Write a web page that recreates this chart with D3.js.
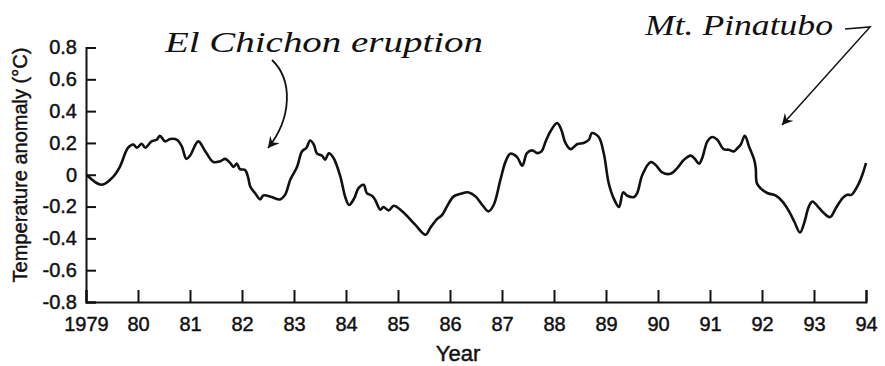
<!DOCTYPE html>
<html>
<head>
<meta charset="utf-8">
<script src="https://cdn.jsdelivr.net/npm/d3@7"></script>
<style>
  body { margin: 0; background: #fff; }
  svg text { font-family: "Liberation Sans", Arial, sans-serif; fill: #111; }
  .bold-ish { stroke: #111; stroke-width: 0.45px; }
  .hand { font-family: "Liberation Serif", serif; font-style: italic; }
</style>
</head>
<body>
<svg id="chart" width="885" height="366"></svg>
<script>
// decimal year and temperature anomaly (°C)
var years = [
  1979.01, 1979.30, 1979.53, 1979.65, 1979.81, 1979.91, 1979.98, 1980.07, 1980.14, 1980.26,
  1980.36, 1980.42, 1980.52, 1980.62, 1980.75, 1980.84, 1980.93, 1981.00, 1981.16, 1981.29,
  1981.45, 1981.58, 1981.68, 1981.77, 1981.84, 1981.90, 1981.96, 1982.06, 1982.12, 1982.16,
  1982.25, 1982.35, 1982.41, 1982.57, 1982.73, 1982.83, 1982.93, 1983.06, 1983.15, 1983.24,
  1983.31, 1983.38, 1983.44, 1983.54, 1983.60, 1983.67, 1983.76, 1983.89, 1983.99, 1984.06,
  1984.16, 1984.24, 1984.34, 1984.40, 1984.50, 1984.56, 1984.66, 1984.72, 1984.82, 1984.92,
  1985.08, 1985.17, 1985.33, 1985.53, 1985.62, 1985.75, 1985.85, 1985.94, 1986.07, 1986.20,
  1986.36, 1986.49, 1986.62, 1986.74, 1986.84, 1986.97, 1987.07, 1987.16, 1987.29, 1987.39,
  1987.48, 1987.58, 1987.68, 1987.76, 1987.84, 1987.93, 1988.06, 1988.14, 1988.22, 1988.32,
  1988.45, 1988.57, 1988.67, 1988.73, 1988.86, 1988.96, 1989.05, 1989.15, 1989.25, 1989.33,
  1989.41, 1989.54, 1989.60, 1989.70, 1989.86, 1989.95, 1990.08, 1990.24, 1990.37, 1990.50,
  1990.63, 1990.71, 1990.79, 1990.85, 1990.95, 1991.04, 1991.14, 1991.26, 1991.36, 1991.46,
  1991.53, 1991.59, 1991.67, 1991.75, 1991.85, 1991.88, 1991.90, 1991.97, 1992.10, 1992.26,
  1992.39, 1992.52, 1992.62, 1992.73, 1992.81, 1992.90, 1992.97, 1993.10, 1993.19, 1993.31,
  1993.42, 1993.55, 1993.64, 1993.72, 1993.84, 1993.93, 1994.00
];
var anomaly = [
  0.000, -0.063, -0.010, 0.050, 0.170, 0.190, 0.170, 0.195, 0.170, 0.210,
  0.220, 0.245, 0.210, 0.225, 0.220, 0.180, 0.100, 0.120, 0.210, 0.150,
  0.080, 0.085, 0.100, 0.075, 0.050, 0.070, 0.035, 0.030, -0.020, -0.075,
  -0.115, -0.155, -0.130, -0.140, -0.155, -0.125, -0.030, 0.050, 0.145, 0.170,
  0.215, 0.190, 0.135, 0.120, 0.095, 0.135, 0.105, -0.010, -0.145, -0.190,
  -0.147, -0.084, -0.063, -0.115, -0.132, -0.157, -0.220, -0.203, -0.224, -0.195,
  -0.230, -0.258, -0.314, -0.377, -0.335, -0.279, -0.252, -0.200, -0.136, -0.120,
  -0.111, -0.136, -0.190, -0.230, -0.190, -0.031, 0.084, 0.132, 0.111, 0.057,
  0.136, 0.153, 0.136, 0.147, 0.210, 0.272, 0.325, 0.283, 0.200, 0.161,
  0.193, 0.200, 0.220, 0.262, 0.237, 0.130, -0.050, -0.150, -0.203, -0.111,
  -0.132, -0.140, -0.115, 0.000, 0.080, 0.063, 0.015, 0.006, 0.042, 0.094,
  0.120, 0.099, 0.069, 0.105, 0.210, 0.237, 0.220, 0.161, 0.157, 0.147,
  0.168, 0.189, 0.245, 0.178, 0.094, 0.042, -0.052, -0.084, -0.115, -0.130,
  -0.168, -0.230, -0.294, -0.363, -0.304, -0.200, -0.168, -0.210, -0.241, -0.266,
  -0.210, -0.147, -0.126, -0.126, -0.069, 0.000, 0.074
];
var yearTicks = d3.range(1979, 1995);
var anomalyTicks = [0.8, 0.6, 0.4, 0.2, 0, -0.2, -0.4, -0.6, -0.8];
var notes = [
  { text: 'El Chichon eruption', x: 165, y: 52, len: 318 },
  { text: 'Mt. Pinatubo', x: 645, y: 35, len: 188 }
];

var svg = d3.select('#chart');
var x = d3.scaleLinear().domain([1979, 1994]).range([86, 866]);
var y = d3.scaleLinear().domain([-0.8, 0.8]).range([302, 47.5]);

// plain hyphen for negatives, like the printed figure
var fmtY = function(d){ return d === 0 ? '0' : (d < 0 ? '-' : '') + Math.abs(d).toFixed(1); };
var fmtX = function(d){ return d === 1979 ? '1979' : String(d).slice(2); };

var yAx = svg.append('g')
    .attr('transform', 'translate(86,0)')
    .call(d3.axisLeft(y).tickValues(anomalyTicks).tickFormat(fmtY)
        .tickSizeInner(-10).tickSizeOuter(-10).tickPadding(9));

var xAx = svg.append('g')
    .attr('transform', 'translate(0,302)')
    .call(d3.axisBottom(x).tickValues(yearTicks).tickFormat(fmtX)
        .tickSizeInner(-12).tickSizeOuter(-12).tickPadding(15));

[yAx, xAx].forEach(function(g){
    g.selectAll('path, line').attr('stroke', '#111').attr('stroke-width', 2);
    g.selectAll('text').attr('class', 'bold-ish').style('font-size', '20px').attr('fill', '#111');
});

svg.append('text')
    .attr('class', 'bold-ish')
    .attr('x', 458).attr('y', 361)
    .attr('text-anchor', 'middle')
    .style('font-size', '22px')
    .text('Year');

svg.append('text')
    .attr('class', 'bold-ish')
    .attr('transform', 'translate(27,165) rotate(-90)')
    .attr('text-anchor', 'middle')
    .style('font-size', '20px')
    .text('Temperature anomaly (°C)');

var line = d3.line()
    .x(function(d, i){ return x(years[i]); })
    .y(function(d){ return y(d); })
    .curve(d3.curveCatmullRom.alpha(0.5));

svg.append('path')
    .datum(anomaly)
    .attr('d', line)
    .attr('fill', 'none')
    .attr('stroke', '#111')
    .attr('stroke-width', 2.6)
    .attr('stroke-linejoin', 'round');

// handwritten annotations
svg.append('defs').append('marker')
    .attr('id', 'head')
    .attr('viewBox', '0 0 12 12')
    .attr('refX', 11).attr('refY', 6)
    .attr('markerWidth', 12).attr('markerHeight', 12)
    .attr('markerUnits', 'userSpaceOnUse')
    .attr('orient', 'auto')
    .append('path')
    .attr('d', 'M0,0 L11,6 L0,12 L4,6 Z')
    .attr('fill', '#111');

svg.selectAll('text.hand')
    .data(notes)
    .enter().append('text')
    .attr('class', 'hand')
    .attr('x', function(d){ return d.x; })
    .attr('y', function(d){ return d.y; })
    .attr('textLength', function(d){ return d.len; })
    .attr('lengthAdjust', 'spacingAndGlyphs')
    .style('font-size', '30px')
    .text(function(d){ return d.text; });

svg.append('path')
    .attr('d', 'M272,60 C293,80 292,118 268,148')
    .attr('fill', 'none').attr('stroke', '#111').attr('stroke-width', 1.8)
    .attr('marker-end', 'url(#head)');

svg.append('path')
    .attr('d', 'M845,29 L870,27 L782,125')
    .attr('fill', 'none').attr('stroke', '#111').attr('stroke-width', 1.5)
    .attr('marker-end', 'url(#head)');
</script>
</body>
</html>
